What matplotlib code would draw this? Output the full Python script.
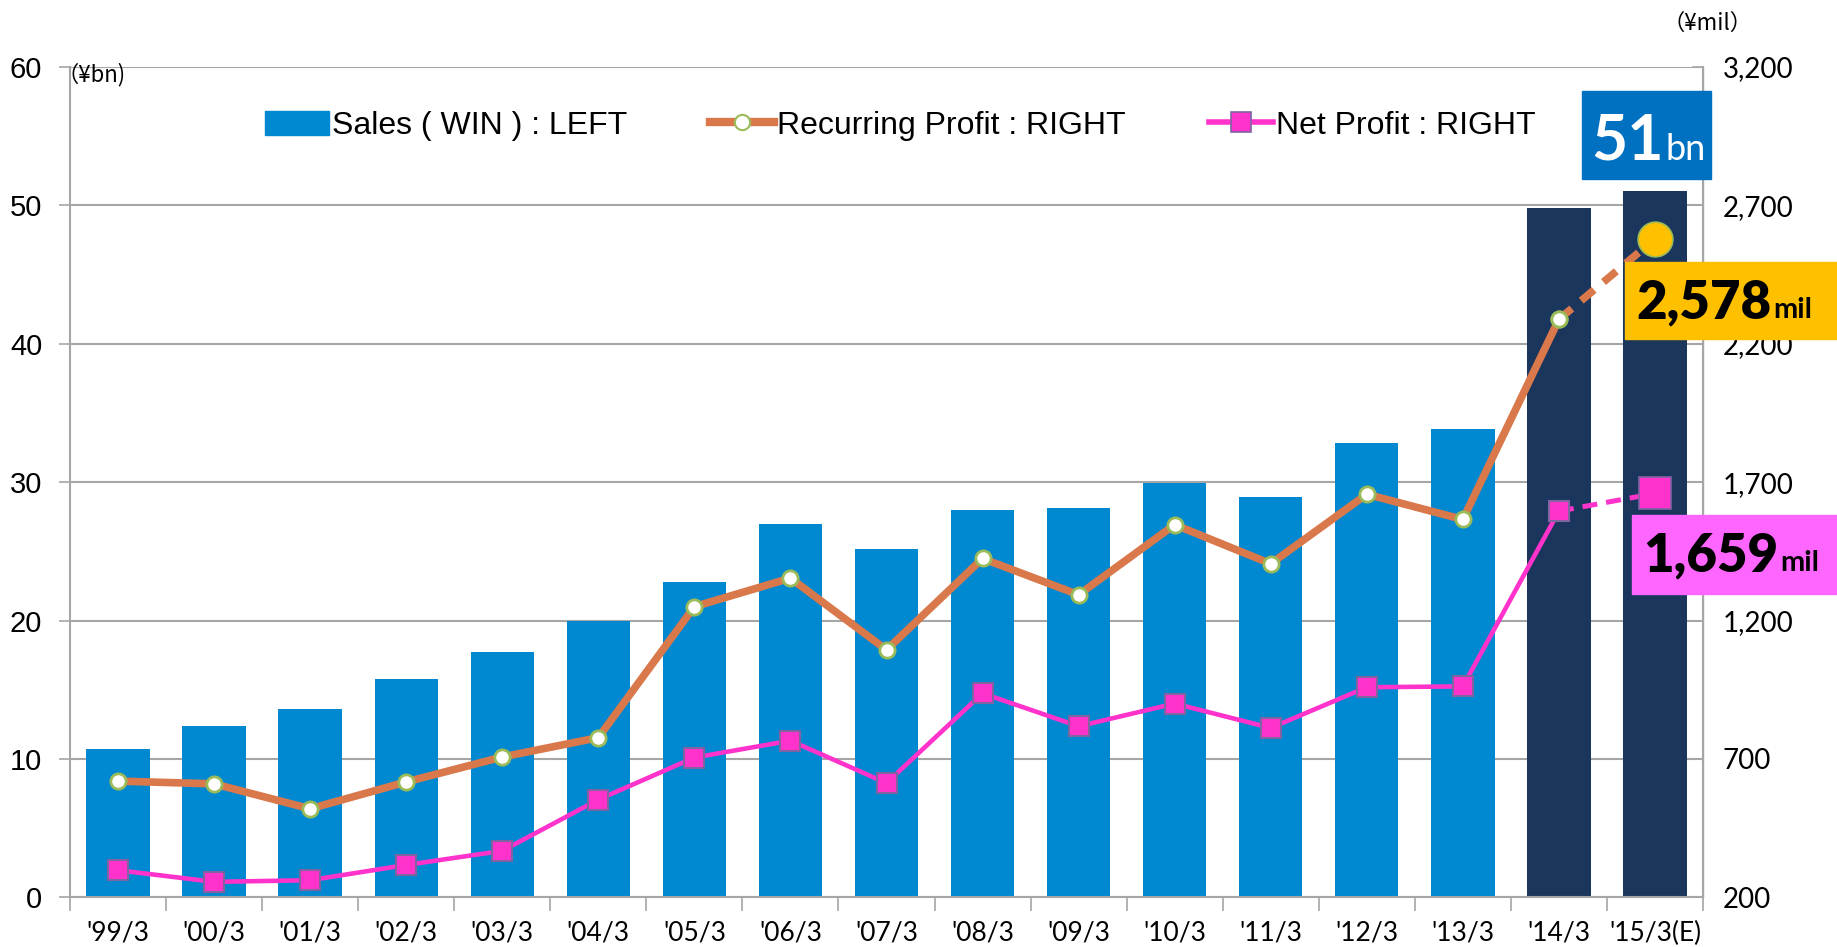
import numpy as np
import matplotlib.pyplot as plt
from matplotlib import font_manager
from matplotlib.patches import Patch, Rectangle
from matplotlib.lines import Line2D
from matplotlib.ticker import FuncFormatter

# データ
years = ["'99/3", "'00/3", "'01/3", "'02/3", "'03/3", "'04/3", "'05/3", "'06/3", "'07/3",
         "'08/3", "'09/3", "'10/3", "'11/3", "'12/3", "'13/3", "'14/3", "'15/3(E)"]
sales = [10.7, 12.4, 13.6, 15.8, 17.7, 19.95, 22.8, 27.0, 25.2, 28.0, 28.1, 29.9, 28.9,
         32.8, 33.8, 49.8, 51.0]
recurring = [620, 610, 520, 617, 707, 777, 1250, 1353, 1094, 1424, 1293, 1546, 1405,
             1656, 1565, 2288, 2578]
net = [298, 256, 262, 317, 368, 553, 705, 766, 613, 937, 818, 900, 812, 959, 962,
       1595, 1659]

# フォント
names = {f.name for f in font_manager.fontManager.ttflist}
narrow = 'Liberation Sans Narrow' if 'Liberation Sans Narrow' in names else 'Liberation Sans'
calib = 'Lato'
cjk = ['Noto Sans CJK JP', 'DejaVu Sans']

c_bar = '#0088D1'
c_bar_dark = '#1B365D'
c_rec = '#D9784A'
c_net = '#FF33CC'

fig = plt.figure(figsize=(18.37, 9.47), dpi=100)
ax = fig.add_axes([70 / 1837, 0.0524, (1703 - 70) / 1837, 0.8771])
ax2 = ax.twinx()

x = np.arange(len(years))
colors = [c_bar] * 15 + [c_bar_dark] * 2
ax.bar(x, sales, width=0.66, color=colors, zorder=2)

ax.set_xlim(-0.5, len(years) - 0.5)
ax.set_ylim(0, 60)
ax.set_yticks(range(0, 61, 10))
ax.grid(axis='y', color='#A6A6A6', lw=1.5, zorder=0)
ax.set_axisbelow(True)
ax.set_xticks(x)
ax.set_xticklabels(years, fontsize=19, family=calib)
ax.set_xticks(np.arange(-0.5, len(years), 1), minor=True)
ax.tick_params(axis='x', which='major', length=0, pad=17)
ax.tick_params(axis='x', which='minor', length=10, width=1.2, color='#A6A6A6')
ax.tick_params(axis='y', length=8, width=1.2, color='#A6A6A6', labelsize=21, pad=12)
for lab in ax.get_yticklabels():
    lab.set_family(narrow)
ax.spines['top'].set_visible(False)
ax2.spines['top'].set_visible(False)
for sp in [ax.spines['left'], ax.spines['bottom'], ax2.spines['right']]:
    sp.set_color('#A6A6A6')
    sp.set_linewidth(1.5)
ax2.spines['left'].set_visible(False)
ax2.spines['bottom'].set_visible(False)

# 右軸
ax2.set_ylim(200, 3200)
ax2.set_yticks(range(200, 3201, 500))
ax2.yaxis.set_major_formatter(FuncFormatter(lambda v, p: f'{int(v):,}'))
ax2.tick_params(axis='y', direction='in', length=8, width=1.2, color='#A6A6A6',
                labelsize=20, pad=14)
for lab in ax2.get_yticklabels():
    lab.set_family(calib)

# 経常利益
ax2.plot(x[:16], recurring[:16], color=c_rec, lw=5.5, zorder=3,
         marker='o', ms=11, mfc='white', mec='#9BBB59', mew=2)
ax2.plot(x[15:], recurring[15:], color=c_rec, lw=5.5, ls=(0, (2.2, 1.6)), zorder=3)
ax2.plot(x[15], recurring[15], marker='o', ms=11, mfc='white', mec='#9BBB59', mew=2, zorder=4)
ax2.plot(x[16], recurring[16], marker='o', ms=25, mfc='#FFC000', mec='#9BBB59', mew=1.2, zorder=4)

# 当期純利益
ax2.plot(x[:16], net[:16], color=c_net, lw=3.3, zorder=3,
         marker='s', ms=15, mfc=c_net, mec='#8064A2', mew=1.5)
ax2.plot(x[15:], net[15:], color=c_net, lw=3.6, ls=(0, (3, 1.8)), zorder=3)
ax2.plot(x[15], net[15], marker='s', ms=15, mfc=c_net, mec='#8064A2', mew=1.5, zorder=4)
ax2.plot(x[16], net[16], marker='s', ms=23, mfc=c_net, mec='#8064A2', mew=1.2, zorder=4)

# 凡例
handles = [
    Patch(color=c_bar),
    Line2D([], [], color=c_rec, lw=6, marker='o', ms=11, mfc='white', mec='#9BBB59', mew=1.5),
    Line2D([], [], color=c_net, lw=4, marker='s', ms=15, mfc=c_net, mec='#8064A2', mew=1.2),
]
labels = ['Sales ( WIN ) : LEFT', 'Recurring Profit : RIGHT', 'Net Profit : RIGHT']
fig.legend(handles, labels, loc='center', bbox_to_anchor=(0.49, 0.867), ncol=3,
           frameon=False, prop={'family': narrow, 'size': 23}, handlelength=2.0,
           handleheight=0.8, handletextpad=0.1, columnspacing=2.6)

# 単位
fig.text(56 / 1837, 1 - 75 / 947, '（¥bn)', fontsize=16, family=cjk, va='center', ha='left')
fig.text(1662 / 1837, 1 - 23 / 947, '（¥mil）', fontsize=16, family=cjk, va='center', ha='left')

# 注記ボックス
renderer = fig.canvas.get_renderer()


def box(x0, y0, x1, y1, color):
    fig.patches.append(Rectangle((x0 / 1837, 1 - y1 / 947), (x1 - x0) / 1837, (y1 - y0) / 947,
                                 transform=fig.transFigure, color=color, zorder=5))


def label(px, py, big, small, bsize, ssize, color, bweight, sweight):
    t = fig.text(px / 1837, 1 - py / 947, big, fontsize=bsize, weight=bweight, color=color,
                 family=calib, va='baseline', zorder=6)
    bb = t.get_window_extent(renderer)
    fig.text(bb.x1 / 1837 + 0.001, 1 - py / 947, small, fontsize=ssize, weight=sweight,
             color=color, family=calib, va='baseline', zorder=6)


box(1582, 91, 1711, 179, '#0070C0')
label(1591, 160, '51', 'bn', 45, 26, 'white', 'bold', 'normal')

box(1625, 262, 1837, 339, '#FFC000')
label(1636, 318, '2,578', 'mil', 38, 21, 'black', 'heavy', 'bold')

box(1632, 515, 1837, 594, '#FF66FF')
label(1643, 571, '1,659', 'mil', 38, 21, 'black', 'heavy', 'bold')

fig.savefig('out.png', dpi=100)
